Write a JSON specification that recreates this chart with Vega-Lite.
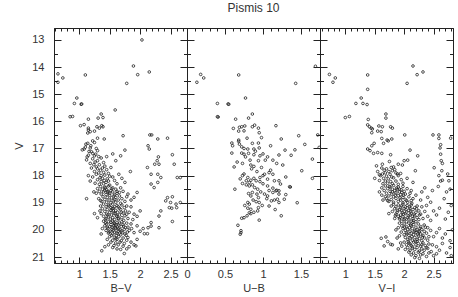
{
"$schema":"https://vega.github.io/schema/vega-lite/v6.json",
"padding":{"left":13,"top":1,"right":6,"bottom":4},
"spacing":0,
"bounds":"flush",
"config":{
 "view":{"stroke":"#222","strokeWidth":1},
 "axis":{"grid":false,"domainColor":"#222","tickColor":"#222","labelColor":"#333","titleColor":"#333","labelFont":"Liberation Sans","titleFont":"Liberation Sans","labelFontSize":11,"titleFontSize":11,"titleFontWeight":"normal","labelFlush":false,"labelOverlap":false,"domainWidth":1,"tickWidth":1,"format":"~g"},
 "title":{"font":"Liberation Sans","fontWeight":"normal","fontSize":12,"color":"#333"}
},
"datasets":{
"bv":[
{"c":2.03,"v":13.0},{"c":0.65,"v":14.25},{"c":0.65,"v":14.56},{"c":0.73,"v":14.4},{"c":1.10,"v":14.29},{"c":1.89,"v":13.96},{"c":1.96,"v":14.28},{"c":2.15,"v":14.18},{"c":1.78,"v":14.6},{"c":0.96,"v":15.14},{"c":0.92,"v":15.34},{"c":1.04,"v":15.36},{"c":1.03,"v":15.37},{"c":1.59,"v":15.58},{"c":0.85,"v":15.83},{"c":0.89,"v":15.82},{"c":1.15,"v":15.92},{"c":1.36,"v":15.73},{"c":1.31,"v":15.88},{"c":1.39,"v":15.86},{"c":1.02,"v":16.16},{"c":1.08,"v":16.12},{"c":1.15,"v":16.25},{"c":1.15,"v":16.32},{"c":1.18,"v":16.38},{"c":1.14,"v":16.43},{"c":1.25,"v":16.36},{"c":1.29,"v":16.2},{"c":1.33,"v":16.25},{"c":1.37,"v":16.16},{"c":1.39,"v":16.2},{"c":1.30,"v":16.62},{"c":1.41,"v":16.65},{"c":1.72,"v":16.53},{"c":2.16,"v":16.5},{"c":2.19,"v":16.5},{"c":2.29,"v":16.65},{"c":2.45,"v":16.62},
{"c":1.08,"v":17.02},{"c":1.11,"v":16.84},{"c":1.14,"v":16.81},{"c":1.19,"v":16.9},{"c":1.22,"v":16.72},{"c":1.25,"v":16.78},{"c":1.16,"v":17.11},{"c":1.22,"v":17.18},{"c":1.27,"v":17.21},{"c":1.30,"v":17.08},{"c":1.13,"v":17.31},{"c":1.25,"v":17.27},{"c":1.24,"v":17.6},{"c":1.75,"v":17.06},{"c":1.68,"v":17.27},{"c":1.84,"v":17.85},
{"c":2.13,"v":16.9},{"c":2.15,"v":17.02},{"c":2.30,"v":17.31},{"c":2.28,"v":17.45},{"c":2.24,"v":17.58},{"c":2.31,"v":17.58},{"c":2.12,"v":17.7},{"c":2.18,"v":17.95},{"c":2.29,"v":17.95},{"c":2.34,"v":18.07},{"c":2.18,"v":18.31},{"c":2.23,"v":18.44},{"c":2.29,"v":18.25},{"c":2.45,"v":18.81},{"c":2.42,"v":18.93},{"c":2.50,"v":18.99},{"c":2.48,"v":19.18},{"c":2.34,"v":19.3},{"c":2.31,"v":19.49},{"c":2.18,"v":19.73},{"c":2.13,"v":19.92},{"c":2.18,"v":19.86},{"c":2.31,"v":19.92},{"c":2.61,"v":18.07},{"c":2.66,"v":18.99},{"c":2.60,"v":19.18},{"c":2.53,"v":17.23},{"c":2.56,"v":17.58},{"c":2.66,"v":18.07},{"c":2.53,"v":18.78},{"c":2.59,"v":19.05},{"c":2.52,"v":19.2},{"c":2.53,"v":19.69},
{"c":1.10,"v":16.95},{"c":1.18,"v":16.98},{"c":1.05,"v":17.05},{"c":1.20,"v":17.12},{"c":1.28,"v":17.0},{"c":1.15,"v":17.25},{"c":1.32,"v":17.3},{"c":1.22,"v":17.38},{"c":1.12,"v":17.42},{"c":1.30,"v":17.45},{"c":1.36,"v":17.35},{"c":1.26,"v":17.5},{"c":1.18,"v":17.55},{"c":1.40,"v":17.52},{"c":1.45,"v":17.3},{"c":1.55,"v":17.2},{"c":1.60,"v":17.45},{"c":1.33,"v":17.6},{"c":1.28,"v":17.68},{"c":1.42,"v":17.65},
{"c":1.20,"v":17.72},{"c":1.30,"v":17.75},{"c":1.35,"v":17.8},{"c":1.38,"v":17.72},{"c":1.45,"v":17.78},{"c":1.25,"v":17.85},{"c":1.32,"v":17.9},{"c":1.40,"v":17.88},{"c":1.48,"v":17.92},{"c":1.28,"v":17.95},{"c":1.36,"v":18.0},{"c":1.42,"v":17.98},{"c":1.50,"v":18.02},{"c":1.22,"v":18.05},{"c":1.34,"v":18.08},{"c":1.38,"v":18.1},{"c":1.46,"v":18.12},{"c":1.55,"v":18.05},{"c":1.30,"v":18.15},{"c":1.41,"v":18.18},{"c":1.48,"v":18.2},{"c":1.36,"v":18.22},{"c":1.58,"v":18.18},{"c":1.65,"v":17.95},{"c":1.70,"v":18.1},{"c":1.15,"v":18.0},{"c":1.52,"v":17.7},{"c":1.44,"v":18.25},{"c":1.26,"v":18.28},{"c":1.62,"v":18.3},{"c":1.33,"v":18.32},{"c":1.40,"v":18.3},{"c":1.50,"v":18.35},{"c":1.75,"v":18.25},{"c":1.18,"v":18.2},
{"c":1.35,"v":18.4},{"c":1.42,"v":18.42},{"c":1.48,"v":18.38},{"c":1.55,"v":18.45},{"c":1.30,"v":18.48},{"c":1.38,"v":18.5},{"c":1.45,"v":18.52},{"c":1.52,"v":18.55},{"c":1.60,"v":18.5},{"c":1.68,"v":18.45},{"c":1.33,"v":18.58},{"c":1.40,"v":18.6},{"c":1.47,"v":18.62},{"c":1.55,"v":18.6},{"c":1.62,"v":18.65},{"c":1.72,"v":18.58},{"c":1.28,"v":18.65},{"c":1.36,"v":18.68},{"c":1.44,"v":18.7},{"c":1.50,"v":18.72},{"c":1.58,"v":18.7},{"c":1.66,"v":18.75},{"c":1.80,"v":18.68},{"c":1.39,"v":18.78},{"c":1.46,"v":18.8},{"c":1.53,"v":18.82},{"c":1.60,"v":18.8},{"c":1.70,"v":18.85},{"c":1.32,"v":18.85},{"c":1.42,"v":18.88},{"c":1.49,"v":18.9},{"c":1.56,"v":18.92},{"c":1.64,"v":18.9},{"c":1.75,"v":18.95},{"c":1.85,"v":18.9},{"c":1.37,"v":18.95},{"c":1.45,"v":18.98},{"c":1.52,"v":19.0},{"c":1.60,"v":18.98},{"c":1.68,"v":19.02},{"c":1.42,"v":18.55},{"c":1.50,"v":18.65},{"c":1.57,"v":18.75},{"c":1.62,"v":18.58},{"c":1.90,"v":18.8},{"c":1.12,"v":18.85},{"c":1.24,"v":18.6},{"c":1.95,"v":18.62},{"c":1.78,"v":18.78},{"c":1.43,"v":18.45},{"c":1.53,"v":18.48},{"c":1.47,"v":18.58},{"c":1.35,"v":18.92},{"c":1.58,"v":18.88},{"c":1.66,"v":18.62},
{"c":1.40,"v":19.05},{"c":1.48,"v":19.08},{"c":1.55,"v":19.05},{"c":1.62,"v":19.1},{"c":1.70,"v":19.08},{"c":1.78,"v":19.12},{"c":1.35,"v":19.12},{"c":1.44,"v":19.15},{"c":1.52,"v":19.18},{"c":1.58,"v":19.15},{"c":1.66,"v":19.2},{"c":1.74,"v":19.18},{"c":1.85,"v":19.15},{"c":1.38,"v":19.22},{"c":1.46,"v":19.25},{"c":1.54,"v":19.22},{"c":1.60,"v":19.28},{"c":1.68,"v":19.25},{"c":1.76,"v":19.3},{"c":1.42,"v":19.32},{"c":1.50,"v":19.35},{"c":1.56,"v":19.3},{"c":1.63,"v":19.35},{"c":1.72,"v":19.38},{"c":1.82,"v":19.35},{"c":1.36,"v":19.4},{"c":1.45,"v":19.42},{"c":1.53,"v":19.45},{"c":1.59,"v":19.4},{"c":1.66,"v":19.45},{"c":1.75,"v":19.48},{"c":1.90,"v":19.42},{"c":1.40,"v":19.5},{"c":1.48,"v":19.52},{"c":1.55,"v":19.55},{"c":1.62,"v":19.5},{"c":1.70,"v":19.55},{"c":1.80,"v":19.58},{"c":1.44,"v":19.58},{"c":1.51,"v":19.6},{"c":1.58,"v":19.62},{"c":1.65,"v":19.6},{"c":1.73,"v":19.65},{"c":1.30,"v":19.55},{"c":1.95,"v":19.5},{"c":2.0,"v":19.3},{"c":1.88,"v":19.62},{"c":1.49,"v":19.12},{"c":1.57,"v":19.38},{"c":1.64,"v":19.15},{"c":1.47,"v":19.45},{"c":1.61,"v":19.48},{"c":1.52,"v":19.28},{"c":1.69,"v":19.35},{"c":1.34,"v":19.3},{"c":1.43,"v":19.62},{"c":1.56,"v":19.2},{"c":1.78,"v":19.42},{"c":1.64,"v":19.58},{"c":1.25,"v":19.4},
{"c":1.40,"v":19.68},{"c":1.48,"v":19.7},{"c":1.55,"v":19.68},{"c":1.62,"v":19.72},{"c":1.70,"v":19.7},{"c":1.78,"v":19.75},{"c":1.45,"v":19.78},{"c":1.52,"v":19.8},{"c":1.58,"v":19.78},{"c":1.65,"v":19.82},{"c":1.72,"v":19.8},{"c":1.85,"v":19.78},{"c":1.42,"v":19.85},{"c":1.50,"v":19.88},{"c":1.57,"v":19.85},{"c":1.63,"v":19.9},{"c":1.69,"v":19.88},{"c":1.76,"v":19.92},{"c":1.47,"v":19.95},{"c":1.54,"v":19.98},{"c":1.60,"v":19.95},{"c":1.67,"v":20.0},{"c":1.74,"v":19.98},{"c":1.82,"v":20.02},{"c":1.44,"v":20.02},{"c":1.51,"v":20.05},{"c":1.58,"v":20.08},{"c":1.64,"v":20.05},{"c":1.71,"v":20.1},{"c":1.79,"v":20.08},{"c":1.48,"v":20.12},{"c":1.55,"v":20.15},{"c":1.62,"v":20.12},{"c":1.68,"v":20.18},{"c":1.75,"v":20.15},{"c":1.90,"v":20.1},{"c":1.38,"v":19.95},{"c":1.95,"v":19.85},{"c":2.0,"v":20.05},{"c":1.36,"v":20.15},{"c":1.52,"v":19.72},{"c":1.59,"v":19.92},{"c":1.66,"v":19.75},{"c":1.73,"v":19.86},{"c":1.56,"v":20.02},{"c":1.61,"v":20.2},{"c":1.53,"v":20.2},{"c":1.86,"v":19.95},{"c":1.46,"v":19.9},{"c":1.64,"v":19.96},{"c":1.70,"v":20.04},{"c":1.57,"v":19.74},{"c":1.80,"v":19.9},{"c":1.49,"v":20.08},{"c":1.66,"v":20.12},{"c":1.60,"v":19.82},{"c":1.43,"v":19.74},{"c":1.77,"v":20.2},{"c":2.05,"v":19.95},{"c":1.54,"v":19.9},
{"c":1.50,"v":20.25},{"c":1.58,"v":20.28},{"c":1.65,"v":20.25},{"c":1.72,"v":20.3},{"c":1.80,"v":20.28},{"c":1.46,"v":20.35},{"c":1.55,"v":20.38},{"c":1.62,"v":20.35},{"c":1.69,"v":20.4},{"c":1.78,"v":20.38},{"c":1.52,"v":20.45},{"c":1.60,"v":20.48},{"c":1.67,"v":20.45},{"c":1.74,"v":20.5},{"c":1.85,"v":20.45},{"c":1.48,"v":20.55},{"c":1.57,"v":20.58},{"c":1.64,"v":20.55},{"c":1.72,"v":20.6},{"c":1.82,"v":20.62},{"c":1.55,"v":20.65},{"c":1.62,"v":20.7},{"c":1.37,"v":20.77},{"c":1.74,"v":20.87},{"c":1.90,"v":20.55},{"c":1.95,"v":20.35},{"c":1.42,"v":20.62},{"c":1.68,"v":20.72},{"c":1.78,"v":20.7},{"c":1.60,"v":20.32},{"c":2.07,"v":20.14},{"c":2.12,"v":20.14},{"c":1.93,"v":20.59}
],
"ub":[
{"c":1.69,"v":13.97},{"c":0.18,"v":14.27},{"c":0.22,"v":14.4},{"c":0.13,"v":14.56},{"c":0.68,"v":14.29},{"c":1.43,"v":14.6},{"c":0.77,"v":15.14},{"c":0.40,"v":15.34},{"c":0.54,"v":15.36},{"c":0.55,"v":15.37},{"c":0.40,"v":15.83},{"c":0.41,"v":15.84},{"c":0.86,"v":15.73},{"c":0.64,"v":15.92},{"c":0.81,"v":15.88},{"c":1.17,"v":16.16},{"c":0.61,"v":16.26},{"c":0.69,"v":16.22},{"c":0.72,"v":16.2},{"c":0.76,"v":16.17},{"c":0.68,"v":16.36},{"c":0.75,"v":16.35},{"c":0.86,"v":16.2},{"c":0.89,"v":16.14},{"c":0.94,"v":16.25},{"c":0.95,"v":16.42},{"c":0.79,"v":16.62},{"c":0.68,"v":16.69},{"c":1.24,"v":16.65},{"c":1.47,"v":16.53},{"c":1.72,"v":16.5},
{"c":0.59,"v":16.8},{"c":0.60,"v":16.9},{"c":0.68,"v":16.74},{"c":0.69,"v":16.84},{"c":0.86,"v":16.81},{"c":0.94,"v":16.8},{"c":0.95,"v":16.98},{"c":1.29,"v":17.06},{"c":0.72,"v":16.94},{"c":0.75,"v":17.0},{"c":0.80,"v":17.02},{"c":0.88,"v":17.02},{"c":0.59,"v":17.17},{"c":0.72,"v":17.17},{"c":0.75,"v":17.21},{"c":0.81,"v":17.18},{"c":0.88,"v":17.23},{"c":0.96,"v":17.27},{"c":1.06,"v":17.31},{"c":1.21,"v":17.24},{"c":0.77,"v":17.31},{"c":0.83,"v":17.43},{"c":0.94,"v":17.45},{"c":1.03,"v":17.43},{"c":1.13,"v":17.43},{"c":1.65,"v":17.39},{"c":0.62,"v":17.68},{"c":0.84,"v":17.61},{"c":0.88,"v":17.66},{"c":1.26,"v":17.61},{"c":1.51,"v":17.82},{"c":1.10,"v":17.8},{"c":1.08,"v":17.89},{"c":1.02,"v":17.95},{"c":1.13,"v":17.95},{"c":1.06,"v":18.13},{"c":1.15,"v":18.19},{"c":1.21,"v":18.19},{"c":0.75,"v":17.94},{"c":0.73,"v":18.0},{"c":0.80,"v":18.07},{"c":0.84,"v":18.17},{"c":0.96,"v":18.07},{"c":0.91,"v":18.19},{"c":0.96,"v":18.22},{"c":0.78,"v":18.19},{"c":0.82,"v":18.25},{"c":0.78,"v":18.34},{"c":0.82,"v":18.38},{"c":0.86,"v":18.34},{"c":0.89,"v":18.44},{"c":0.73,"v":18.29},{"c":1.06,"v":18.38},{"c":1.13,"v":18.46},{"c":1.18,"v":18.54},{"c":1.21,"v":18.56},{"c":1.23,"v":18.31},{"c":1.35,"v":18.41},{"c":1.36,"v":18.42},{"c":0.86,"v":18.62},{"c":0.92,"v":18.68},{"c":0.94,"v":18.81},{"c":0.81,"v":18.66},{"c":0.84,"v":18.75},{"c":1.02,"v":18.68},{"c":1.06,"v":18.75},{"c":1.13,"v":18.62},{"c":1.17,"v":18.56},{"c":1.21,"v":18.68},{"c":1.28,"v":18.87},{"c":0.80,"v":18.99},{"c":0.82,"v":19.05},{"c":0.91,"v":18.96},{"c":0.95,"v":18.99},{"c":1.11,"v":18.93},{"c":1.15,"v":18.9},{"c":1.21,"v":18.99},{"c":1.19,"v":18.87},{"c":0.80,"v":19.2},{"c":0.84,"v":19.24},{"c":0.93,"v":19.3},{"c":0.94,"v":19.18},{"c":0.82,"v":19.37},{"c":0.84,"v":19.4},{"c":1.24,"v":19.48},{"c":0.79,"v":19.48},{"c":0.75,"v":19.55},{"c":0.72,"v":19.57},{"c":0.95,"v":19.64},{"c":0.67,"v":19.83},{"c":0.71,"v":20.03},{"c":0.71,"v":20.1},{"c":0.70,"v":20.16},{"c":1.74,"v":16.96},
{"c":0.85,"v":17.75},{"c":0.92,"v":17.85},{"c":0.98,"v":17.7},{"c":1.00,"v":18.0},{"c":0.88,"v":18.1},{"c":0.70,"v":18.12},{"c":1.0,"v":18.3},{"c":0.93,"v":18.5},{"c":1.08,"v":18.55},{"c":0.97,"v":18.6},{"c":1.3,"v":18.7},{"c":1.05,"v":18.85},{"c":0.87,"v":18.9},{"c":0.99,"v":19.1},{"c":1.08,"v":19.12},{"c":0.76,"v":19.1},{"c":1.16,"v":19.25},{"c":0.88,"v":19.35},{"c":0.9,"v":17.1},{"c":1.0,"v":17.2},{"c":0.66,"v":17.5},{"c":0.73,"v":17.55},{"c":1.37,"v":17.25},{"c":1.42,"v":17.05},{"c":1.55,"v":16.85},{"c":1.65,"v":18.1},{"c":1.45,"v":19.0},{"c":0.63,"v":18.5},{"c":0.98,"v":16.6},{"c":1.1,"v":16.9},{"c":1.18,"v":17.55},{"c":1.3,"v":18.05}
],
"vi":[
{"c":0.73,"v":14.27},{"c":0.83,"v":14.4},{"c":0.79,"v":14.56},{"c":1.38,"v":14.29},{"c":1.38,"v":14.82},{"c":2.15,"v":13.96},{"c":2.22,"v":14.28},{"c":2.32,"v":14.18},{"c":2.05,"v":14.6},{"c":1.27,"v":15.14},{"c":1.18,"v":15.34},{"c":1.30,"v":15.34},{"c":1.37,"v":15.38},{"c":1.0,"v":15.86},{"c":1.07,"v":15.82},{"c":1.69,"v":15.73},{"c":1.69,"v":15.88},{"c":1.39,"v":15.93},{"c":1.38,"v":16.13},{"c":1.41,"v":16.2},{"c":1.44,"v":16.25},{"c":1.46,"v":16.28},{"c":1.57,"v":16.17},{"c":1.63,"v":16.2},{"c":1.77,"v":16.2},{"c":1.80,"v":16.25},{"c":1.55,"v":16.36},{"c":1.61,"v":16.38},{"c":1.45,"v":16.42},{"c":1.62,"v":16.63},{"c":1.79,"v":16.65},{"c":1.71,"v":16.69},{"c":2.01,"v":16.5},{"c":2.49,"v":16.5},{"c":2.59,"v":16.5},{"c":2.59,"v":16.63},{"c":2.79,"v":16.62},
{"c":1.38,"v":17.02},{"c":1.45,"v":16.9},{"c":1.49,"v":16.81},{"c":1.42,"v":17.08},{"c":1.48,"v":17.18},{"c":1.55,"v":17.15},{"c":1.62,"v":17.18},{"c":1.77,"v":17.23},{"c":1.65,"v":16.81},{"c":1.73,"v":16.72},{"c":2.10,"v":17.06},{"c":2.23,"v":17.27},{"c":2.62,"v":16.86},{"c":2.61,"v":16.98},{"c":2.62,"v":17.21},{"c":2.63,"v":17.45},{"c":2.65,"v":17.55},{"c":1.53,"v":17.64},{"c":1.63,"v":17.58},{"c":1.75,"v":17.48},{"c":1.82,"v":17.68},{"c":1.90,"v":17.58},{"c":1.97,"v":17.61},{"c":2.06,"v":17.43},{"c":2.0,"v":17.45},{"c":1.58,"v":17.97},{"c":1.63,"v":17.94},{"c":1.80,"v":17.82},{"c":1.89,"v":17.94},{"c":1.94,"v":17.92},{"c":2.19,"v":17.82},{"c":2.51,"v":17.71},{"c":2.64,"v":17.82},{"c":2.74,"v":17.94},{"c":2.59,"v":18.0},{"c":2.65,"v":18.17},{"c":2.76,"v":18.19},{"c":1.69,"v":20.26},{"c":1.72,"v":20.43},{"c":1.61,"v":20.31},{"c":1.77,"v":20.53},{"c":1.66,"v":20.59},{"c":1.80,"v":20.55},
{"c":1.62,"v":17.72},{"c":1.70,"v":17.75},{"c":1.78,"v":17.7},{"c":1.66,"v":17.8},{"c":1.74,"v":17.85},{"c":1.84,"v":17.78},{"c":1.55,"v":17.85},{"c":1.68,"v":17.9},{"c":1.76,"v":17.95},{"c":1.86,"v":17.9},{"c":1.60,"v":18.0},{"c":1.70,"v":18.02},{"c":1.79,"v":18.05},{"c":1.90,"v":18.0},{"c":1.65,"v":18.1},{"c":1.73,"v":18.12},{"c":1.82,"v":18.08},{"c":1.95,"v":18.15},{"c":1.58,"v":18.18},{"c":1.68,"v":18.2},{"c":1.77,"v":18.22},{"c":1.86,"v":18.2},{"c":2.05,"v":18.1},{"c":1.72,"v":18.28},{"c":1.80,"v":18.3},{"c":1.90,"v":18.32},{"c":1.64,"v":18.3},{"c":2.15,"v":18.25},{"c":1.50,"v":18.1},{"c":1.98,"v":18.28},
{"c":1.68,"v":18.38},{"c":1.75,"v":18.4},{"c":1.82,"v":18.36},{"c":1.90,"v":18.42},{"c":1.98,"v":18.4},{"c":1.62,"v":18.45},{"c":1.72,"v":18.48},{"c":1.80,"v":18.5},{"c":1.87,"v":18.46},{"c":1.95,"v":18.52},{"c":2.05,"v":18.48},{"c":1.66,"v":18.55},{"c":1.76,"v":18.58},{"c":1.84,"v":18.55},{"c":1.92,"v":18.6},{"c":2.00,"v":18.58},{"c":2.12,"v":18.55},{"c":1.70,"v":18.65},{"c":1.79,"v":18.68},{"c":1.86,"v":18.64},{"c":1.94,"v":18.7},{"c":2.02,"v":18.68},{"c":1.62,"v":18.72},{"c":1.74,"v":18.75},{"c":1.82,"v":18.78},{"c":1.90,"v":18.74},{"c":1.98,"v":18.8},{"c":2.08,"v":18.78},{"c":2.20,"v":18.72},{"c":1.70,"v":18.85},{"c":1.78,"v":18.88},{"c":1.86,"v":18.84},{"c":1.94,"v":18.9},{"c":2.02,"v":18.88},{"c":2.12,"v":18.92},{"c":1.74,"v":18.95},{"c":1.82,"v":18.98},{"c":1.90,"v":18.95},{"c":1.98,"v":19.0},{"c":2.06,"v":18.98},{"c":2.28,"v":18.9},{"c":2.40,"v":18.8},{"c":1.58,"v":18.6},{"c":1.64,"v":18.9},{"c":2.30,"v":18.6},{"c":1.88,"v":18.52},{"c":1.96,"v":18.62},{"c":1.85,"v":18.72},{"c":1.93,"v":18.82},{"c":2.04,"v":18.92},{"c":1.76,"v":18.42},{"c":2.10,"v":18.65},{"c":1.72,"v":18.92},{"c":2.35,"v":18.45},{"c":2.45,"v":18.98},{"c":1.99,"v":18.72},{"c":1.80,"v":18.6},{"c":2.15,"v":18.85},{"c":1.68,"v":18.78},{"c":1.92,"v":18.5},
{"c":1.82,"v":19.05},{"c":1.90,"v":19.08},{"c":1.98,"v":19.05},{"c":2.05,"v":19.1},{"c":2.12,"v":19.08},{"c":2.22,"v":19.12},{"c":1.78,"v":19.12},{"c":1.86,"v":19.15},{"c":1.94,"v":19.18},{"c":2.02,"v":19.15},{"c":2.10,"v":19.2},{"c":2.18,"v":19.18},{"c":2.30,"v":19.15},{"c":1.84,"v":19.22},{"c":1.92,"v":19.25},{"c":2.00,"v":19.22},{"c":2.08,"v":19.28},{"c":2.15,"v":19.25},{"c":2.25,"v":19.3},{"c":1.80,"v":19.32},{"c":1.88,"v":19.35},{"c":1.96,"v":19.3},{"c":2.04,"v":19.35},{"c":2.12,"v":19.38},{"c":2.20,"v":19.35},{"c":2.35,"v":19.32},{"c":1.86,"v":19.42},{"c":1.94,"v":19.45},{"c":2.02,"v":19.4},{"c":2.10,"v":19.45},{"c":2.18,"v":19.48},{"c":2.28,"v":19.42},{"c":1.90,"v":19.5},{"c":1.98,"v":19.52},{"c":2.06,"v":19.55},{"c":2.14,"v":19.5},{"c":2.22,"v":19.55},{"c":2.32,"v":19.58},{"c":1.84,"v":19.58},{"c":1.92,"v":19.6},{"c":2.00,"v":19.62},{"c":2.08,"v":19.6},{"c":2.16,"v":19.65},{"c":2.25,"v":19.62},{"c":1.96,"v":19.68},{"c":2.04,"v":19.7},{"c":2.12,"v":19.68},{"c":2.20,"v":19.7},{"c":2.40,"v":19.5},{"c":2.50,"v":19.3},{"c":1.74,"v":19.4},{"c":2.45,"v":19.65},{"c":1.95,"v":19.12},{"c":2.03,"v":19.25},{"c":2.11,"v":19.32},{"c":1.99,"v":19.42},{"c":2.07,"v":19.48},{"c":2.15,"v":19.58},{"c":1.89,"v":19.28},{"c":2.21,"v":19.22},{"c":2.26,"v":19.45},{"c":1.97,"v":19.36},{"c":2.09,"v":19.15},{"c":1.93,"v":19.55},{"c":2.17,"v":19.42},{"c":2.01,"v":19.58},{"c":1.85,"v":19.48},{"c":2.13,"v":19.02},{"c":2.38,"v":19.1},{"c":2.55,"v":19.45},{"c":2.60,"v":19.2},{"c":2.70,"v":19.6},{"c":2.75,"v":19.35},{"c":2.80,"v":19.1},{"c":2.68,"v":18.85},{"c":2.72,"v":18.6},{"c":2.58,"v":18.4},{"c":2.78,"v":18.5},{"c":2.62,"v":18.2},{"c":2.48,"v":18.55},
{"c":1.92,"v":19.75},{"c":2.00,"v":19.78},{"c":2.08,"v":19.75},{"c":2.16,"v":19.8},{"c":2.24,"v":19.78},{"c":2.34,"v":19.82},{"c":1.96,"v":19.85},{"c":2.04,"v":19.88},{"c":2.12,"v":19.85},{"c":2.20,"v":19.9},{"c":2.28,"v":19.88},{"c":2.40,"v":19.92},{"c":1.90,"v":19.92},{"c":1.98,"v":19.95},{"c":2.06,"v":19.98},{"c":2.14,"v":19.95},{"c":2.22,"v":20.0},{"c":2.30,"v":19.98},{"c":2.02,"v":20.02},{"c":2.10,"v":20.05},{"c":2.18,"v":20.02},{"c":2.26,"v":20.08},{"c":2.34,"v":20.05},{"c":2.45,"v":20.02},{"c":1.95,"v":20.08},{"c":2.04,"v":20.1},{"c":2.12,"v":20.12},{"c":2.20,"v":20.1},{"c":2.28,"v":20.15},{"c":2.38,"v":20.12},{"c":2.00,"v":20.18},{"c":2.08,"v":20.2},{"c":2.16,"v":20.18},{"c":2.24,"v":20.22},{"c":2.32,"v":20.2},{"c":2.42,"v":20.25},{"c":1.92,"v":20.22},{"c":2.02,"v":20.28},{"c":2.10,"v":20.3},{"c":2.18,"v":20.28},{"c":2.26,"v":20.32},{"c":2.35,"v":20.3},{"c":2.50,"v":20.25},{"c":2.06,"v":20.35},{"c":2.14,"v":20.38},{"c":2.22,"v":20.35},{"c":2.30,"v":20.4},{"c":2.40,"v":20.38},{"c":2.55,"v":20.1},{"c":2.60,"v":19.95},{"c":2.65,"v":20.3},{"c":2.70,"v":20.15},{"c":2.78,"v":20.4},{"c":2.82,"v":20.0},{"c":1.86,"v":20.0},{"c":1.88,"v":20.3},{"c":2.15,"v":19.72},{"c":2.09,"v":19.92},{"c":2.17,"v":20.07},{"c":2.23,"v":20.16},{"c":2.13,"v":20.25},{"c":2.05,"v":20.15},{"c":2.27,"v":19.94},{"c":2.31,"v":20.26},{"c":2.19,"v":20.42},{"c":2.07,"v":20.42},{"c":2.11,"v":19.82},{"c":2.36,"v":19.9},{"c":2.01,"v":19.9},{"c":2.25,"v":20.05},
{"c":2.00,"v":20.45},{"c":2.08,"v":20.48},{"c":2.16,"v":20.45},{"c":2.24,"v":20.5},{"c":2.32,"v":20.48},{"c":2.42,"v":20.52},{"c":2.04,"v":20.55},{"c":2.12,"v":20.58},{"c":2.20,"v":20.55},{"c":2.28,"v":20.6},{"c":2.36,"v":20.58},{"c":2.48,"v":20.55},{"c":1.96,"v":20.6},{"c":2.06,"v":20.65},{"c":2.14,"v":20.68},{"c":2.22,"v":20.65},{"c":2.30,"v":20.7},{"c":2.40,"v":20.68},{"c":2.55,"v":20.62},{"c":2.02,"v":20.72},{"c":2.10,"v":20.75},{"c":2.18,"v":20.72},{"c":2.26,"v":20.78},{"c":2.34,"v":20.75},{"c":2.46,"v":20.8},{"c":2.60,"v":20.75},{"c":2.08,"v":20.82},{"c":2.16,"v":20.85},{"c":2.24,"v":20.82},{"c":2.32,"v":20.88},{"c":2.42,"v":20.85},{"c":2.12,"v":20.92},{"c":2.20,"v":20.95},{"c":2.28,"v":20.92},{"c":2.38,"v":20.98},{"c":2.65,"v":20.5},{"c":2.72,"v":20.85},{"c":2.78,"v":20.65},{"c":2.80,"v":20.95},{"c":2.50,"v":20.95},{"c":1.90,"v":20.7},{"c":2.18,"v":21.02},{"c":2.26,"v":21.05},{"c":2.55,"v":20.88},{"c":1.94,"v":20.48},{"c":2.14,"v":20.62},{"c":2.22,"v":20.42},{"c":2.30,"v":20.55},{"c":2.10,"v":20.52},{"c":2.38,"v":20.65}
]
},
"hconcat":[
{"width":133,"height":235,"data":{"name":"bv"},
 "layer":[
  {"mark":{"type":"point","shape":"circle","filled":false,"size":7,"strokeWidth":0.8,"color":"#222","opacity":1},
   "encoding":{
    "x":{"field":"c","type":"quantitative","scale":{"domain":[0.585,2.77],"nice":false,"zero":false},"axis":{"orient":"bottom","title":"B−V","values":[1,1.5,2,2.5],"tickSize":-6,"labelPadding":11,"titlePadding":3}},
    "y":{"field":"v","type":"quantitative","scale":{"domain":[12.56,21.22],"reverse":true,"nice":false,"zero":false},"axis":{"orient":"left","title":"V","values":[13,14,15,16,17,18,19,20,21],"tickSize":-7,"labelPadding":17,"titlePadding":7}}}},
  {"mark":{"type":"point","opacity":0},
   "encoding":{
    "x":{"field":"c","type":"quantitative","axis":{"orient":"top","title":null,"labels":false,"values":[1,1.5,2,2.5],"tickSize":-6}},
    "y":{"field":"v","type":"quantitative","axis":{"orient":"right","title":null,"labels":false,"values":[13,14,15,16,17,18,19,20,21],"tickSize":-7}}}},
  {"mark":{"type":"point","opacity":0},
   "encoding":{
    "x":{"field":"c","type":"quantitative","axis":{"orient":"bottom","title":null,"labels":false,"domain":false,"values":[0.6,0.7,0.8,0.9,1.1,1.2,1.3,1.4,1.6,1.7,1.8,1.9,2.1,2.2,2.3,2.4,2.6,2.7],"tickSize":-3}},
    "y":{"field":"v","type":"quantitative","axis":{"orient":"left","title":null,"labels":false,"domain":false,"values":[13.5,14.5,15.5,16.5,17.5,18.5,19.5,20.5],"tickSize":-3.5}}}},
  {"mark":{"type":"point","opacity":0},
   "encoding":{
    "x":{"field":"c","type":"quantitative","axis":{"orient":"top","title":null,"labels":false,"domain":false,"values":[0.6,0.7,0.8,0.9,1.1,1.2,1.3,1.4,1.6,1.7,1.8,1.9,2.1,2.2,2.3,2.4,2.6,2.7],"tickSize":-3}},
    "y":{"field":"v","type":"quantitative","axis":{"orient":"right","title":null,"labels":false,"domain":false,"values":[13.5,14.5,15.5,16.5,17.5,18.5,19.5,20.5],"tickSize":-3.5}}}}
 ],
 "resolve":{"axis":{"x":"independent","y":"independent"}}
},
{"width":133,"height":235,"data":{"name":"ub"},
 "title":{"text":"Pismis 10","offset":13},
 "layer":[
  {"mark":{"type":"point","shape":"circle","filled":false,"size":7,"strokeWidth":0.8,"color":"#222","opacity":1},
   "encoding":{
    "x":{"field":"c","type":"quantitative","scale":{"domain":[0,1.75],"nice":false,"zero":false},"axis":{"orient":"bottom","title":"U−B","values":[0,0.5,1,1.5],"tickSize":-6,"labelPadding":11,"titlePadding":3}},
    "y":{"field":"v","type":"quantitative","scale":{"domain":[12.56,21.22],"reverse":true,"nice":false,"zero":false},"axis":{"orient":"left","title":null,"labels":false,"values":[13,14,15,16,17,18,19,20,21],"tickSize":-7}}}},
  {"mark":{"type":"point","opacity":0},
   "encoding":{
    "x":{"field":"c","type":"quantitative","axis":{"orient":"top","title":null,"labels":false,"values":[0,0.5,1,1.5],"tickSize":-6}},
    "y":{"field":"v","type":"quantitative","axis":{"orient":"right","title":null,"labels":false,"values":[13,14,15,16,17,18,19,20,21],"tickSize":-7}}}},
  {"mark":{"type":"point","opacity":0},
   "encoding":{
    "x":{"field":"c","type":"quantitative","axis":{"orient":"bottom","title":null,"labels":false,"domain":false,"values":[0.1,0.2,0.3,0.4,0.6,0.7,0.8,0.9,1.1,1.2,1.3,1.4,1.6,1.7],"tickSize":-3}},
    "y":{"field":"v","type":"quantitative","axis":{"orient":"left","title":null,"labels":false,"domain":false,"values":[13.5,14.5,15.5,16.5,17.5,18.5,19.5,20.5],"tickSize":-3.5}}}},
  {"mark":{"type":"point","opacity":0},
   "encoding":{
    "x":{"field":"c","type":"quantitative","axis":{"orient":"top","title":null,"labels":false,"domain":false,"values":[0.1,0.2,0.3,0.4,0.6,0.7,0.8,0.9,1.1,1.2,1.3,1.4,1.6,1.7],"tickSize":-3}},
    "y":{"field":"v","type":"quantitative","axis":{"orient":"right","title":null,"labels":false,"domain":false,"values":[13.5,14.5,15.5,16.5,17.5,18.5,19.5,20.5],"tickSize":-3.5}}}}
 ],
 "resolve":{"axis":{"x":"independent","y":"independent"}}
},
{"width":133,"height":235,"data":{"name":"vi"},
 "layer":[
  {"mark":{"type":"point","shape":"circle","filled":false,"size":7,"strokeWidth":0.8,"color":"#222","opacity":1},
   "encoding":{
    "x":{"field":"c","type":"quantitative","scale":{"domain":[0.57,2.83],"nice":false,"zero":false},"axis":{"orient":"bottom","title":"V−I","values":[1,1.5,2,2.5],"tickSize":-6,"labelPadding":11,"titlePadding":3}},
    "y":{"field":"v","type":"quantitative","scale":{"domain":[12.56,21.22],"reverse":true,"nice":false,"zero":false},"axis":{"orient":"left","title":null,"labels":false,"values":[13,14,15,16,17,18,19,20,21],"tickSize":-7}}}},
  {"mark":{"type":"point","opacity":0},
   "encoding":{
    "x":{"field":"c","type":"quantitative","axis":{"orient":"top","title":null,"labels":false,"values":[1,1.5,2,2.5],"tickSize":-6}},
    "y":{"field":"v","type":"quantitative","axis":{"orient":"right","title":null,"labels":false,"values":[13,14,15,16,17,18,19,20,21],"tickSize":-7}}}},
  {"mark":{"type":"point","opacity":0},
   "encoding":{
    "x":{"field":"c","type":"quantitative","axis":{"orient":"bottom","title":null,"labels":false,"domain":false,"values":[0.6,0.7,0.8,0.9,1.1,1.2,1.3,1.4,1.6,1.7,1.8,1.9,2.1,2.2,2.3,2.4,2.6,2.7,2.8],"tickSize":-3}},
    "y":{"field":"v","type":"quantitative","axis":{"orient":"left","title":null,"labels":false,"domain":false,"values":[13.5,14.5,15.5,16.5,17.5,18.5,19.5,20.5],"tickSize":-3.5}}}},
  {"mark":{"type":"point","opacity":0},
   "encoding":{
    "x":{"field":"c","type":"quantitative","axis":{"orient":"top","title":null,"labels":false,"domain":false,"values":[0.6,0.7,0.8,0.9,1.1,1.2,1.3,1.4,1.6,1.7,1.8,1.9,2.1,2.2,2.3,2.4,2.6,2.7,2.8],"tickSize":-3}},
    "y":{"field":"v","type":"quantitative","axis":{"orient":"right","title":null,"labels":false,"domain":false,"values":[13.5,14.5,15.5,16.5,17.5,18.5,19.5,20.5],"tickSize":-3.5}}}}
 ],
 "resolve":{"axis":{"x":"independent","y":"independent"}}
}
]
}
